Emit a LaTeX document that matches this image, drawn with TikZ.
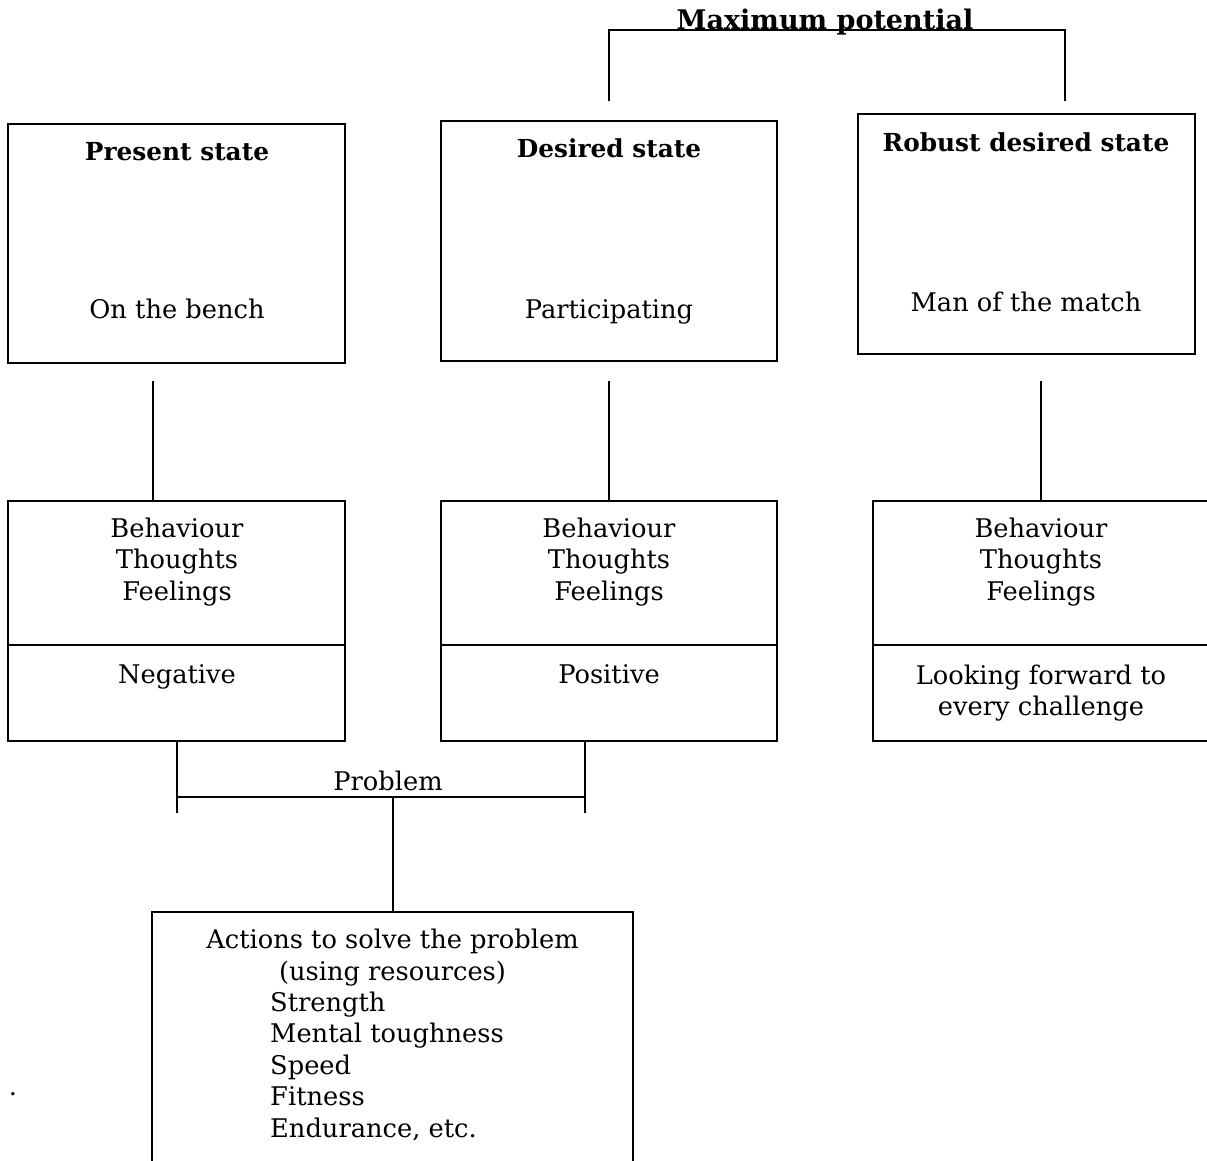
\documentclass[tikz,border=0pt]{standalone}
\usepackage{fontspec}
\setmainfont{DejaVu Serif}
\begin{document}
\begin{tikzpicture}[x=1pt,y=-1pt,
  frame/.style={draw, line width=2.4pt, inner sep=0pt, rectangle},
  link/.style={draw, line width=2.4pt},
  txt/.style={inner sep=0pt, anchor=base, font=\fontsize{25.7}{31.5}\selectfont},
  ttl/.style={inner sep=0pt, anchor=base, font=\fontsize{24.8}{31.5}\selectfont\bfseries},
  head/.style={inner sep=0pt, anchor=base, font=\fontsize{27}{31.5}\selectfont\bfseries},
  lft/.style={txt, anchor=base west}]
\useasboundingbox (0,0) rectangle (1207,1160);

% state boxes
\node[frame, minimum width=337pt, minimum height=239pt] (ps) at (176.5,243.5) {};
\node[frame, minimum width=336pt, minimum height=240pt] (ds) at (609,241) {};
\node[frame, minimum width=337pt, minimum height=240pt] (rs) at (1026.5,234) {};

\node[ttl] (pst) at (177,160) {Present state};
\node[txt] (psb) at (177,318) {On the bench};
\node[ttl] (dst) at (609,157) {Desired state};
\node[txt] (dsb) at (609,318) {Participating};
\node[ttl] (rst) at (1026,151) {Robust desired state};
\node[txt] (rsb) at (1026,311) {Man of the match};

% maximum potential bracket
\coordinate (mpl) at (609,101);
\coordinate (mpr) at (1065,101);
\draw[link] (mpl) -- (609,30) -- (1065,30) -- (mpr);
\node[head] (mp) at (825,29) {Maximum potential};

% behaviour / thoughts / feelings boxes
\node[frame, minimum width=337pt, minimum height=144pt] (b1t) at (176.5,573) {};
\node[frame, minimum width=337pt, minimum height=96pt] (b1b) at (176.5,693) {};
\node[frame, minimum width=336pt, minimum height=144pt] (b2t) at (609,573) {};
\node[frame, minimum width=336pt, minimum height=96pt] (b2b) at (609,693) {};
\node[frame, minimum width=350pt, minimum height=144pt] (b3t) at (1048,573) {};
\node[frame, minimum width=350pt, minimum height=96pt] (b3b) at (1048,693) {};

\foreach \cx/\nm in {177/a, 609/b, 1041/c} {
  \node[txt] (bh\nm) at (\cx,537) {Behaviour};
  \node[txt] (th\nm) at (\cx,568.5) {Thoughts};
  \node[txt] (fe\nm) at (\cx,600) {Feelings};
}
\node[txt] (neg) at (177,683) {Negative};
\node[txt] (pos) at (609,683) {Positive};
\node[txt] (lf1) at (1041,684) {Looking forward to};
\node[txt] (lf2) at (1041,715.5) {every challenge};

% vertical links between rows
\coordinate (v1) at (153,381);
\coordinate (v2) at (609,381);
\coordinate (v3) at (1041,381);
\draw[link] (v1) -- (v1 |- b1t.north);
\draw[link] (v2) -- (v2 |- b2t.north);
\draw[link] (v3) -- (v3 |- b3t.north);

% problem bracket
\coordinate (pl) at (177,741);
\coordinate (pr) at (585,741);
\coordinate (pm) at (393,797);
\draw[link] (pl) -- ++(0,72);
\draw[link] (pr) -- ++(0,72);
\draw[link] (pl |- pm) -- (pr |- pm);
\node[txt] (prob) at (388,790) {Problem};

% actions box (runs past the lower edge)
\node[frame, minimum width=481pt, minimum height=280pt] (act) at (392.5,1052) {};
\draw[link] (pm) -- (pm |- act.north);

\node[txt] (a1) at (392.5,948) {Actions to solve the problem};
\node[txt] (a2) at (392.5,980) {(using resources)};
\node[lft] (a3) at (270,1011) {Strength};
\node[lft] (a4) at (270,1042.5) {Mental toughness};
\node[lft] (a5) at (270,1074) {Speed};
\node[lft] (a6) at (270,1105.5) {Fitness};
\node[lft] (a7) at (270,1137) {Endurance, etc.};

\node[txt] (dot) at (13,1095) {.};
\end{tikzpicture}
\end{document}
